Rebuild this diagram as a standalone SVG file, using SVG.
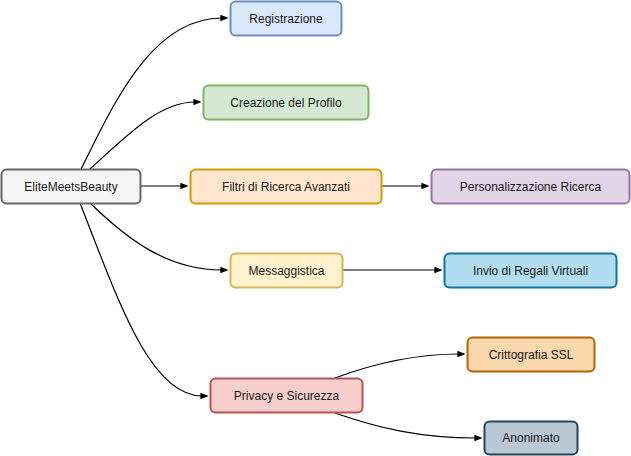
<svg xmlns="http://www.w3.org/2000/svg" width="631" height="456" viewBox="0 0 631 456">
<style>
.n rect{stroke-width:2}
.n text{font-family:"Liberation Sans",Arial,sans-serif;font-size:12px;fill:#1a1a1a;text-anchor:middle;dominant-baseline:central}
.e path{fill:none;stroke:#000;stroke-width:1.2;marker-end:url(#a)}
</style>
<defs>
<marker id="a" viewBox="0 0 10 10" refX="2" refY="5" markerWidth="8" markerHeight="8" markerUnits="userSpaceOnUse" orient="auto">
<path d="M0,1 L10,5 L0,9 Z" fill="#000"/>
</marker>
</defs>
<rect width="631" height="456" fill="#fff"/>
<g class="e" id="connectors">
<path d="M81,169 C112,108 150,18 222,18"/>
<path d="M90,169 C128,134 160,102 195,102"/>
<path d="M140,186 L182,186"/>
<path d="M90,203 C128,240 168,270 222,270"/>
<path d="M80,203 C118,300 150,396 202,396"/>
<path d="M382,186 L423,186"/>
<path d="M343,270 L436,270"/>
<path d="M335,378 C378,362 418,354 459,354"/>
<path d="M335,413 C378,428 420,438 476,438"/>
</g>
<g class="n" id="elite"><rect x="1.5" y="169.5" width="139" height="34" rx="5" fill="#f5f5f5" stroke="#666666"/><text x="71" y="186.5">EliteMeetsBeauty</text></g>
<g class="n" id="registrazione"><rect x="230.5" y="1.5" width="111" height="34" rx="5" fill="#dae8fc" stroke="#6c8ebf"/><text x="286" y="18.5">Registrazione</text></g>
<g class="n" id="creazione"><rect x="203.5" y="85.5" width="165" height="34" rx="5" fill="#d5e8d4" stroke="#82b366"/><text x="286" y="102.5">Creazione del Profilo</text></g>
<g class="n" id="filtri"><rect x="190.5" y="169.5" width="191" height="34" rx="5" fill="#ffe6cc" stroke="#d79b00"/><text x="286" y="186.5">Filtri di Ricerca Avanzati</text></g>
<g class="n" id="personalizzazione"><rect x="431.5" y="169.5" width="198" height="34" rx="5" fill="#e1d5e7" stroke="#9673a6"/><text x="530.5" y="186.5">Personalizzazione Ricerca</text></g>
<g class="n" id="messaggistica"><rect x="230.5" y="253.5" width="112" height="34" rx="5" fill="#fff2cc" stroke="#d6b656"/><text x="286.5" y="270.5">Messaggistica</text></g>
<g class="n" id="invio"><rect x="444.5" y="253.5" width="172" height="34" rx="5" fill="#b1ddf0" stroke="#10739e"/><text x="530.5" y="270.5">Invio di Regali Virtuali</text></g>
<g class="n" id="privacy"><rect x="210.5" y="378.5" width="152" height="34" rx="5" fill="#f8cecc" stroke="#b85450"/><text x="286.5" y="395.5">Privacy e Sicurezza</text></g>
<g class="n" id="crittografia"><rect x="467.5" y="337.5" width="127" height="34" rx="5" fill="#fad7ac" stroke="#b46504"/><text x="531" y="354.5">Crittografia SSL</text></g>
<g class="n" id="anonimato"><rect x="484.5" y="421.5" width="93" height="33" rx="5" fill="#bac8d3" stroke="#23445d"/><text x="531" y="438">Anonimato</text></g>
</svg>
